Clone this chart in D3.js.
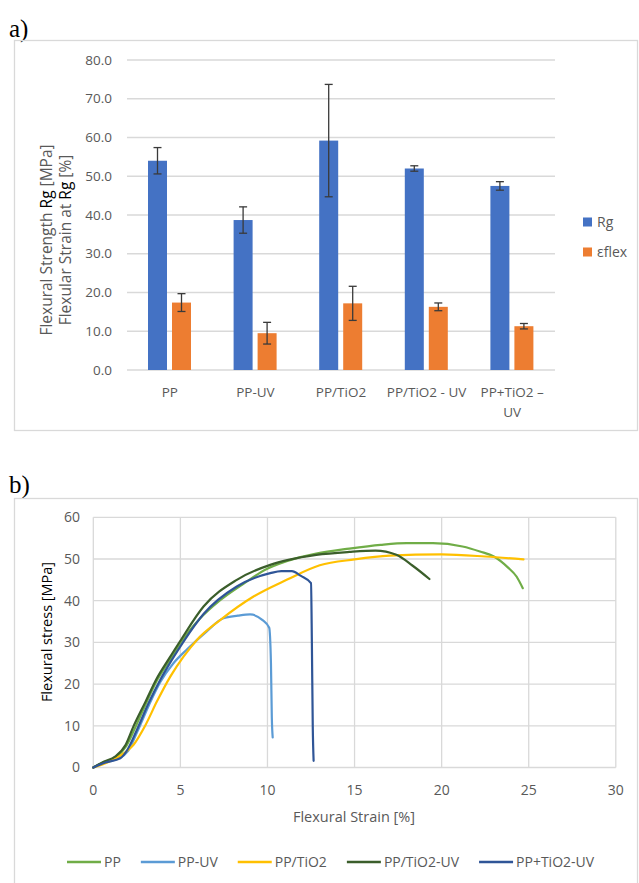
<!DOCTYPE html>
<html>
<head>
<meta charset="utf-8">
<script src="https://cdn.jsdelivr.net/npm/d3@7"></script>
<style>
  body { margin: 0; background: #fff; }
  svg { display: block; font-family: 'Open Sans', 'DejaVu Sans', sans-serif; }
  .grid line { stroke: #d9d9d9; stroke-width: 1.3; }
  .tick-label { fill: #595959; font-size: 13.5px; }
  .frame { fill: none; stroke: #d9d9d9; stroke-width: 1.3; }
</style>
</head>
<body>
<div id="chart"></div>
<script>
// ---- a) bar chart data ----
const categories = ["PP", "PP-UV", "PP/TiO2", "PP/TiO2 - UV", "PP+TiO2 –\nUV"];
const rg = [54.0, 38.7, 59.2, 52.0, 47.5];
const rgErr = [3.4, 3.4, 14.5, 0.7, 1.1];
const eflex = [17.4, 9.5, 17.2, 16.3, 11.3];
const eflexErr = [2.3, 2.8, 4.4, 1.0, 0.7];
const barTicks = [0, 10, 20, 30, 40, 50, 60, 70, 80];

// ---- b) stress-strain curves (strain %, stress MPa) ----
const ppStrain   = [0, 0.6, 1.3, 1.9, 2.4, 3.05, 3.7, 4.4, 5.05, 6.1, 7.25, 8.6, 9.9, 11.1, 12.8, 14.7, 16.5, 18.0, 19.5, 21.2, 22.2, 23.0, 23.8, 24.3, 24.66];
const ppStress   = [0, 1.3, 2.5, 5.2, 9.5, 15.6, 21.2, 25.8, 30.2, 35.6, 40.0, 44.0, 47.5, 49.5, 51.3, 52.5, 53.4, 53.8, 53.8, 53.0, 51.8, 50.6, 48.0, 45.8, 43.0];
const ppuvStrain = [0, 0.6, 1.4, 2.0, 2.55, 3.2, 3.85, 4.6, 5.4, 6.5, 7.47, 8.3, 9.0, 9.7, 10.1, 10.2, 10.25, 10.3];
const ppuvStress = [0, 1.2, 2.1, 4.0, 8.8, 15.0, 20.5, 25.0, 28.4, 32.6, 35.8, 36.4, 36.7, 35.4, 33.5, 25.0, 12.0, 7.2];
const tioStrain  = [0, 0.9, 1.75, 2.3, 3.0, 3.65, 4.42, 5.18, 5.95, 7.3, 9.2, 11.1, 13.0, 15.0, 17.0, 20.0, 22.5, 24.7];
const tioStress  = [0, 1.4, 3.4, 5.4, 10.2, 15.8, 21.8, 26.6, 30.6, 35.4, 41.0, 45.0, 48.5, 49.9, 50.8, 51.1, 50.6, 49.9];
const tiouvStrain = [0, 0.6, 1.25, 1.85, 2.3, 3.0, 3.65, 4.3, 5.0, 6.33, 8.24, 10.16, 11.2, 12.8, 14.7, 16.2, 17.4, 18.3, 19.3];
const tiouvStress = [0, 1.4, 2.6, 5.4, 9.8, 15.8, 21.4, 25.8, 30.4, 38.6, 45.0, 48.6, 49.8, 51.0, 51.7, 52.0, 51.0, 48.5, 45.2];
const plusStrain = [0, 0.7, 1.55, 1.95, 2.5, 3.17, 3.84, 4.51, 5.18, 6.33, 8.24, 10.16, 10.8, 11.4, 11.9, 12.5, 12.55, 12.6, 12.65];
const plusStress = [0, 1.2, 2.2, 4.2, 9.0, 15.4, 21.0, 25.8, 30.2, 36.8, 43.4, 46.6, 47.1, 47.1, 46.0, 44.2, 30.0, 10.0, 1.6];
const seriesNames = ["PP", "PP-UV", "PP/TiO2", "PP/TiO2-UV", "PP+TiO2-UV"];
const curveTicksX = [0, 5, 10, 15, 20, 25, 30];
const curveTicksY = [0, 10, 20, 30, 40, 50, 60];

const W = 639, H = 883;
const svg = d3.select("#chart").append("svg").attr("width", W).attr("height", H);

// ================= a) =================
svg.append("text").attr("x", 9).attr("y", 37)
  .style("font-family", "'Liberation Serif', 'DejaVu Serif', serif").style("font-size", "25px")
  .text("a)");
svg.append("rect").attr("class", "frame").attr("x", 14.5).attr("y", 40.5).attr("width", 623).attr("height", 390);

const ya = d3.scaleLinear().domain([0, 80]).range([370, 60]);
const xa = d3.scaleBand().domain(categories).range([127, 555]);
const xs = d3.scaleBand().domain(["rg", "eflex"]).range([21, 64]).paddingInner(5 / 24);

const ga = svg.append("g");
ga.append("g").attr("class", "grid").selectAll("line").data(barTicks).join("line")
  .attr("x1", 127).attr("x2", 555).attr("y1", d => ya(d)).attr("y2", d => ya(d));
ga.append("g").selectAll("text").data(barTicks).join("text")
  .attr("class", "tick-label").attr("x", 112).attr("y", d => ya(d)).attr("dy", "0.35em")
  .attr("text-anchor", "end").text(d => d.toFixed(1));

const barSeries = [
  { key: "rg", vals: rg, err: rgErr, color: "#4472C4" },
  { key: "eflex", vals: eflex, err: eflexErr, color: "#ED7D31" }
];
barSeries.forEach(s => {
  const g = ga.append("g");
  g.selectAll("rect").data(categories).join("rect")
    .attr("x", c => xa(c) + xs(s.key)).attr("width", xs.bandwidth())
    .attr("y", (c, i) => ya(s.vals[i])).attr("height", (c, i) => ya(0) - ya(s.vals[i]))
    .attr("fill", s.color);
  categories.forEach((c, i) => {
    const cx = xa(c) + xs(s.key) + xs.bandwidth() / 2;
    const top = ya(s.vals[i] + s.err[i]), bot = ya(s.vals[i] - s.err[i]);
    const e = g.append("g").attr("stroke", "#3a3a3a").attr("stroke-width", 1.3);
    e.append("line").attr("x1", cx).attr("x2", cx).attr("y1", top).attr("y2", bot);
    e.append("line").attr("x1", cx - 4).attr("x2", cx + 4).attr("y1", top).attr("y2", top);
    e.append("line").attr("x1", cx - 4).attr("x2", cx + 4).attr("y1", bot).attr("y2", bot);
  });
});

// category labels
categories.forEach(c => {
  const lines = c.split("\n");
  const t = ga.append("text").attr("class", "tick-label").attr("text-anchor", "middle")
    .attr("x", xa(c) + xa.bandwidth() / 2).attr("y", 397);
  lines.forEach((l, j) => t.append("tspan").attr("x", xa(c) + xa.bandwidth() / 2).attr("dy", j ? 20 : 0).text(l));
});

// y title (two lines)
[["Flexural Strength ", "Rg", " [MPa]", 52], ["Flexular Strain at ", "Rg", " [%]", 71]].forEach(d => {
  const t = ga.append("text").attr("transform", `translate(${d[3]},240) rotate(-90)`)
    .attr("text-anchor", "middle").style("font-size", "15.5px").attr("fill", "#595959");
  t.append("tspan").text(d[0]);
  t.append("tspan").attr("fill", "#000").text(d[1]);
  t.append("tspan").text(d[2]);
});

// legend a
const legA = ga.append("g").attr("transform", "translate(583,0)");
[["Rg", "#4472C4", 222], ["εflex", "#ED7D31", 252]].forEach(d => {
  legA.append("rect").attr("x", 0).attr("y", d[2] - 4.5).attr("width", 9).attr("height", 9).attr("fill", d[1]);
  legA.append("text").attr("x", 14).attr("y", d[2]).attr("dy", "0.35em")
    .style("font-size", "14px").attr("fill", "#595959").text(d[0]);
});

// ================= b) =================
svg.append("text").attr("x", 9).attr("y", 493)
  .style("font-family", "'Liberation Serif', 'DejaVu Serif', serif").style("font-size", "25px")
  .text("b)");
svg.append("rect").attr("class", "frame").attr("x", 14.5).attr("y", 498.5).attr("width", 623).attr("height", 420);

const xb = d3.scaleLinear().domain([0, 30]).range([93.3, 615.8]);
const yb = d3.scaleLinear().domain([0, 60]).range([767.5, 517.3]);
const gb = svg.append("g");
const gridB = gb.append("g").attr("class", "grid");
gridB.selectAll("line.h").data(curveTicksY).join("line").attr("class", "h")
  .attr("x1", xb(0)).attr("x2", xb(30)).attr("y1", d => yb(d)).attr("y2", d => yb(d));
gridB.selectAll("line.v").data(curveTicksX).join("line").attr("class", "v")
  .attr("x1", d => xb(d)).attr("x2", d => xb(d)).attr("y1", yb(0)).attr("y2", yb(60));

gb.append("g").selectAll("text").data(curveTicksY).join("text")
  .attr("class", "tick-label").style("font-size", "14px").attr("x", 80).attr("y", d => yb(d)).attr("dy", "0.35em")
  .attr("text-anchor", "end").text(d => d);
gb.append("g").selectAll("text").data(curveTicksX).join("text")
  .attr("class", "tick-label").style("font-size", "14px").attr("x", d => xb(d)).attr("y", 790).attr("dy", "0.35em")
  .attr("text-anchor", "middle").text(d => d);

gb.append("text").attr("x", 354).attr("y", 817).attr("dy", "0.35em").attr("text-anchor", "middle")
  .style("font-size", "14.5px").attr("fill", "#595959").text("Flexural Strain [%]");
gb.append("text").attr("transform", "translate(52,632) rotate(-90)").attr("text-anchor", "middle")
  .style("font-size", "14.5px").attr("fill", "#000").text("Flexural stress [MPa]");

const curves = [
  { name: seriesNames[0], x: ppStrain, y: ppStress, color: "#70AD47" },
  { name: seriesNames[1], x: ppuvStrain, y: ppuvStress, color: "#5B9BD5" },
  { name: seriesNames[2], x: tioStrain, y: tioStress, color: "#FFC000" },
  { name: seriesNames[3], x: tiouvStrain, y: tiouvStress, color: "#3B5E2B" },
  { name: seriesNames[4], x: plusStrain, y: plusStress, color: "#2F5597" }
];
const line = d3.line().x(d => xb(d[0])).y(d => yb(d[1])).curve(d3.curveMonotoneX);
gb.append("g").selectAll("path").data(curves).join("path")
  .attr("d", c => line(c.x.map((v, i) => [v, c.y[i]])))
  .attr("fill", "none").attr("stroke", c => c.color).attr("stroke-width", 2.2)
  .attr("stroke-linejoin", "round").attr("stroke-linecap", "round");

// legend b
const legB = gb.append("g");
let lx = 67;
curves.forEach(c => {
  legB.append("line").attr("x1", lx).attr("x2", lx + 34).attr("y1", 862).attr("y2", 862)
    .attr("stroke", c.color).attr("stroke-width", 2.5);
  const t = legB.append("text").attr("x", lx + 37).attr("y", 862).attr("dy", "0.35em")
    .style("font-size", "14px").attr("fill", "#595959").text(c.name);
  lx += 37 + t.node().getComputedTextLength() + 20;
});
</script>
</body>
</html>
